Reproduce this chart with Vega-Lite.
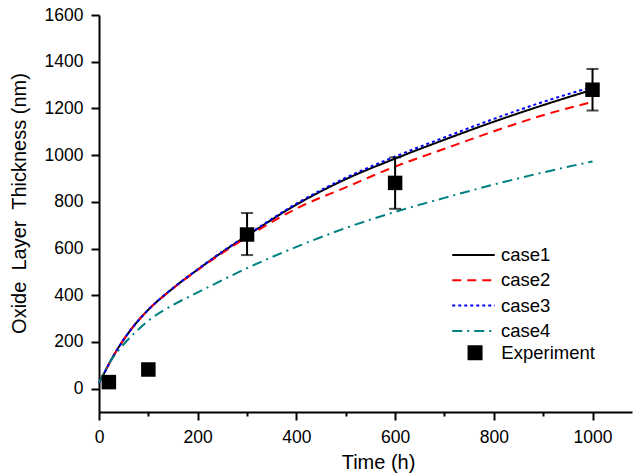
{
  "$schema": "https://vega.github.io/schema/vega-lite/v6.json",
  "width": 533,
  "height": 397,
  "autosize": {"type": "none"},
  "padding": {"left": 99, "top": 15, "right": 2, "bottom": 62},
  "background": "white",
  "config": {
    "view": {"stroke": null},
    "font": "Liberation Sans",
    "axis": {
      "grid": false,
      "domainColor": "black",
      "domainWidth": 2,
      "tickColor": "black",
      "tickWidth": 2,
      "labelFont": "Liberation Sans",
      "labelFontSize": 17.5,
      "labelColor": "black",
      "titleFont": "Liberation Sans",
      "titleFontSize": 20,
      "titleFontWeight": "normal",
      "titleColor": "black"
    },
    "legend": {
      "labelFont": "Liberation Sans",
      "labelFontSize": 18.5,
      "labelColor": "black",
      "padding": 0
    }
  },
  "datasets": {
    "curves": [
      {"series": "case1", "t": 0, "v": 25}, {"series": "case1", "t": 10, "v": 64}, {"series": "case1", "t": 20, "v": 105}, {"series": "case1", "t": 30, "v": 143}, {"series": "case1", "t": 50, "v": 210}, {"series": "case1", "t": 75, "v": 280}, {"series": "case1", "t": 100, "v": 338}, {"series": "case1", "t": 150, "v": 430}, {"series": "case1", "t": 200, "v": 510}, {"series": "case1", "t": 250, "v": 585}, {"series": "case1", "t": 300, "v": 655}, {"series": "case1", "t": 400, "v": 788}, {"series": "case1", "t": 500, "v": 897}, {"series": "case1", "t": 600, "v": 985}, {"series": "case1", "t": 700, "v": 1066}, {"series": "case1", "t": 800, "v": 1143}, {"series": "case1", "t": 900, "v": 1214}, {"series": "case1", "t": 1000, "v": 1280},
      {"series": "case2", "t": 0, "v": 25}, {"series": "case2", "t": 10, "v": 64}, {"series": "case2", "t": 20, "v": 105}, {"series": "case2", "t": 30, "v": 143}, {"series": "case2", "t": 50, "v": 210}, {"series": "case2", "t": 75, "v": 280}, {"series": "case2", "t": 100, "v": 338}, {"series": "case2", "t": 150, "v": 429}, {"series": "case2", "t": 200, "v": 508}, {"series": "case2", "t": 250, "v": 581}, {"series": "case2", "t": 300, "v": 649}, {"series": "case2", "t": 400, "v": 771}, {"series": "case2", "t": 500, "v": 862}, {"series": "case2", "t": 600, "v": 951}, {"series": "case2", "t": 700, "v": 1027}, {"series": "case2", "t": 800, "v": 1102}, {"series": "case2", "t": 900, "v": 1171}, {"series": "case2", "t": 1000, "v": 1228},
      {"series": "case3", "t": 0, "v": 25}, {"series": "case3", "t": 10, "v": 64}, {"series": "case3", "t": 20, "v": 105}, {"series": "case3", "t": 30, "v": 143}, {"series": "case3", "t": 50, "v": 210}, {"series": "case3", "t": 75, "v": 280}, {"series": "case3", "t": 100, "v": 338}, {"series": "case3", "t": 150, "v": 431}, {"series": "case3", "t": 200, "v": 511}, {"series": "case3", "t": 250, "v": 587}, {"series": "case3", "t": 300, "v": 657}, {"series": "case3", "t": 400, "v": 792}, {"series": "case3", "t": 500, "v": 903}, {"series": "case3", "t": 600, "v": 994}, {"series": "case3", "t": 700, "v": 1076}, {"series": "case3", "t": 800, "v": 1155}, {"series": "case3", "t": 900, "v": 1228}, {"series": "case3", "t": 1000, "v": 1292},
      {"series": "case4", "t": 0, "v": 25}, {"series": "case4", "t": 10, "v": 66}, {"series": "case4", "t": 20, "v": 106}, {"series": "case4", "t": 30, "v": 138}, {"series": "case4", "t": 50, "v": 190}, {"series": "case4", "t": 75, "v": 244}, {"series": "case4", "t": 100, "v": 291}, {"series": "case4", "t": 150, "v": 358}, {"series": "case4", "t": 200, "v": 412}, {"series": "case4", "t": 250, "v": 465}, {"series": "case4", "t": 300, "v": 516}, {"series": "case4", "t": 400, "v": 607}, {"series": "case4", "t": 500, "v": 688}, {"series": "case4", "t": 600, "v": 757}, {"series": "case4", "t": 700, "v": 817}, {"series": "case4", "t": 800, "v": 874}, {"series": "case4", "t": 900, "v": 926}, {"series": "case4", "t": 1000, "v": 973}
    ],
    "experiment": [
      {"kind": "Experiment", "t": 20, "v": 28},
      {"kind": "Experiment", "t": 100, "v": 82},
      {"kind": "Experiment", "t": 300, "v": 660, "lo": 572, "hi": 752},
      {"kind": "Experiment", "t": 600, "v": 881, "lo": 770, "hi": 990},
      {"kind": "Experiment", "t": 1000, "v": 1280, "lo": 1191, "hi": 1369}
    ]
  },
  "layer": [
    {
      "data": {"name": "curves"},
      "mark": {"type": "line", "strokeWidth": 2, "interpolate": "monotone"},
      "encoding": {
        "x": {
          "field": "t", "type": "quantitative",
          "scale": {"domain": [0, 1080], "nice": false, "zero": false},
          "axis": {
            "title": "Time (h)",
            "values": [0, 100, 200, 300, 400, 500, 600, 700, 800, 900, 1000],
            "format": "d",
            "labelExpr": "datum.value % 200 === 0 ? datum.label : ''",
            "tickSize": {"condition": {"test": "datum.value % 200 === 0", "value": 8}, "value": 4},
            "labelPadding": 8,
            "labelFlush": false,
            "titleX": 279, "titleY": 56, "titleAlign": "center", "titleBaseline": "alphabetic"
          }
        },
        "y": {
          "field": "v", "type": "quantitative",
          "scale": {"domain": [-100, 1600], "nice": false, "zero": false},
          "axis": {
            "title": "Oxide\u00a0 Layer\u00a0 Thickness (nm)",
            "values": [0, 100, 200, 300, 400, 500, 600, 700, 800, 900, 1000, 1100, 1200, 1300, 1400, 1500, 1600],
            "format": "d",
            "labelExpr": "datum.value % 200 === 0 ? datum.label : ''",
            "tickSize": {"condition": {"test": "datum.value % 200 === 0", "value": 8}, "value": 4},
            "labelPadding": 8,
            "labelFlush": false,
            "titleX": -74, "titleY": 188, "titleAngle": -90, "titleAlign": "center", "titleBaseline": "alphabetic"
          }
        },
        "color": {
          "field": "series", "type": "nominal",
          "scale": {"domain": ["case1", "case2", "case3", "case4"], "range": ["#000000", "#ff0000", "#0000ff", "#008080"]},
          "legend": {
            "title": null, "orient": "none", "legendX": 365, "legendY": 230.5,
            "symbolType": "M-2.5,0H2.5", "symbolSize": 289, "symbolStrokeWidth": 2,
            "labelOffset": 18, "rowPadding": 6.3
          }
        },
        "strokeDash": {
          "field": "series", "type": "nominal",
          "scale": {"domain": ["case1", "case2", "case3", "case4"], "range": [[1, 0], [9, 6], [3, 3], [10, 5, 2, 5]]},
          "legend": {
            "title": null, "orient": "none", "legendX": 365, "legendY": 230.5,
            "symbolType": "M-2.5,0H2.5", "symbolSize": 289, "symbolStrokeWidth": 2,
            "labelOffset": 18, "rowPadding": 6.3
          }
        }
      }
    },
    {
      "data": {"name": "experiment"},
      "mark": {"type": "errorbar", "thickness": 2, "color": "black", "ticks": {"size": 12, "thickness": 2, "color": "black"}},
      "encoding": {
        "x": {"field": "t", "type": "quantitative", "title": "Time (h)"},
        "y": {"field": "lo", "type": "quantitative", "title": "Oxide\u00a0 Layer\u00a0 Thickness (nm)"},
        "y2": {"field": "hi"}
      }
    },
    {
      "data": {"name": "experiment"},
      "mark": {"type": "point", "filled": true, "opacity": 1, "color": "black"},
      "encoding": {
        "x": {"field": "t", "type": "quantitative", "title": "Time (h)"},
        "y": {"field": "v", "type": "quantitative", "title": "Oxide\u00a0 Layer\u00a0 Thickness (nm)"},
        "size": {"value": 210},
        "shape": {
          "field": "kind", "type": "nominal",
          "scale": {"domain": ["Experiment"], "range": ["square"]},
          "legend": {
            "title": null, "orient": "none", "legendX": 366.8, "legendY": 328.5,
            "symbolSize": 225, "symbolFillColor": "black", "symbolStrokeColor": "black", "symbolStrokeWidth": 0,
            "labelOffset": 17
          }
        }
      }
    }
  ]
}
